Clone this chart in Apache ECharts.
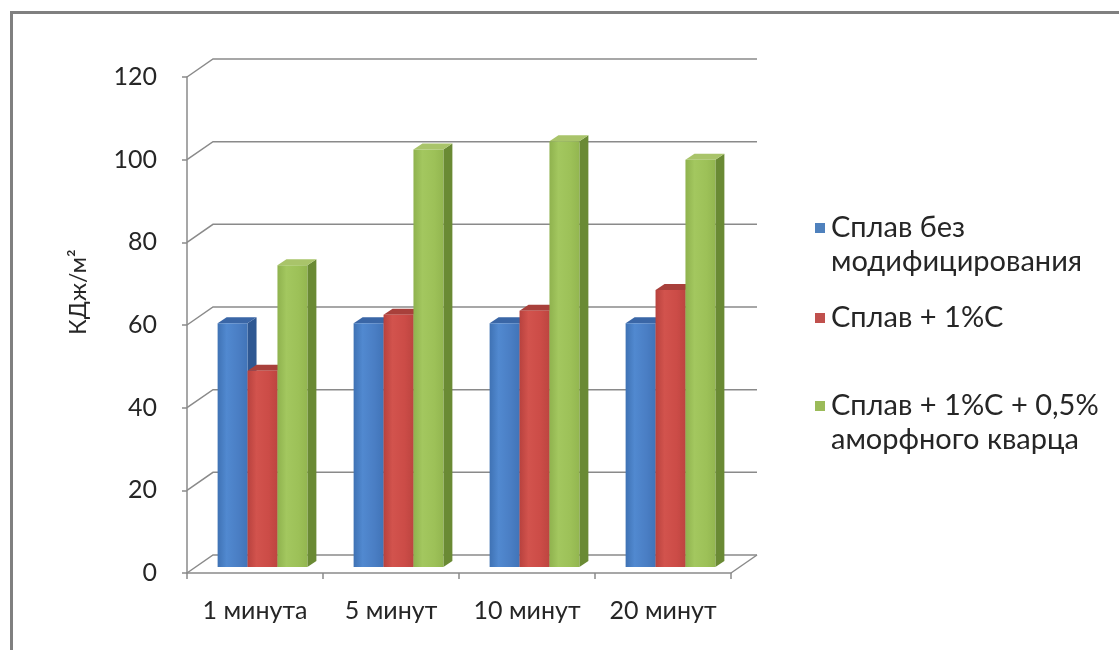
<!DOCTYPE html>
<html>
<head>
<meta charset="utf-8">
<script src="https://cdn.jsdelivr.net/npm/echarts@6/dist/echarts.min.js"></script>
<style>
  html, body { margin: 0; padding: 0; background: #ffffff; }
  #chart { width: 1119px; height: 650px; }
</style>
</head>
<body>
<div id="chart"></div>
<script>
// Impact strength of the alloy by holding time
const categories = ['1 минута', '5 минут', '10 минут', '20 минут'];
const seriesNames = ['Сплав без модифицирования', 'Сплав + 1%С', 'Сплав + 1%С + 0,5% аморфного кварца'];
const legendLines = [
  ['Сплав без', 'модифицирования'],
  ['Сплав + 1%С'],
  ['Сплав + 1%С + 0,5%', 'аморфного кварца']
];
const plainValues = [59, 59, 59, 59];
const carbonValues = [47.5, 61, 62, 67];
const quartzValues = [73, 101, 103, 98.5];
const yTicks = [0, 20, 40, 60, 80, 100, 120];
const yTitle = 'КДж/м²';

const FONT = 'Lato, "Open Sans", sans-serif';
const TEXT = '#262626';
const WALL = '#8a8a8a';

// face colours: front gradient stops, side, top
const palettes = [
  { front: ['#3f72b4', '#5189d0', '#4a7ec4', '#4174b8'], side: '#2f5892', top: '#3a66a6', legend: '#4f81bd' },
  { front: ['#b8423e', '#d2534d', '#cc4c47', '#bd4540'], side: '#8f3431', top: '#a8403b', legend: '#c0504d' },
  { front: ['#8fb24e', '#a3c75f', '#9dc158', '#93b650'], side: '#6a8a34', top: '#a9c46a', legend: '#9bbb59' }
];

// depth of the box walls and of the bars
const WALL_DX = 26, WALL_DY = -18;
const PLANE_DX = 7.5, PLANE_DY = -6;
const BAR_DX = 9, BAR_DY = -6;

function renderWall(params, api) {
  const cs = params.coordSys;
  const v = api.value(0);
  const y = api.coord([0, v])[1];
  const gx = cs.x, gw = cs.width;
  const children = [{
    type: 'polyline',
    shape: { points: [[gx, y], [gx + WALL_DX, y + WALL_DY], [gx + gw + WALL_DX, y + WALL_DY]] },
    style: { stroke: WALL, lineWidth: 1.5, fill: null }
  }];
  if (v === 0) {
    children.push({
      type: 'line',
      shape: { x1: gx + gw, y1: y, x2: gx + gw + WALL_DX, y2: y + WALL_DY },
      style: { stroke: WALL, lineWidth: 1.5 }
    });
  }
  return { type: 'group', children: children };
}

function makeBarRenderer(k) {
  const pal = palettes[k];
  return function (params, api) {
    const cat = api.value(0);
    const v = api.value(1);
    const top = api.coord([cat, v]);
    const base = api.coord([cat, 0]);
    const band = api.size([1, 0])[0];
    const w = band * 0.22;
    const x0 = top[0] + PLANE_DX - 1.5 * w + k * w;
    const x1 = x0 + w;
    const yT = top[1] + PLANE_DY;
    const yB = base[1] + PLANE_DY;
    return {
      type: 'group',
      children: [
        {
          type: 'polygon',
          shape: { points: [[x1, yT], [x1 + BAR_DX, yT + BAR_DY], [x1 + BAR_DX, yB + BAR_DY], [x1, yB]] },
          style: { fill: pal.side }
        },
        {
          type: 'polygon',
          shape: { points: [[x0, yT], [x1, yT], [x1 + BAR_DX, yT + BAR_DY], [x0 + BAR_DX, yT + BAR_DY]] },
          style: { fill: pal.top }
        },
        {
          type: 'rect',
          shape: { x: x0, y: yT, width: w, height: yB - yT },
          style: {
            fill: new echarts.graphic.LinearGradient(0, 0, 1, 0, [
              { offset: 0, color: pal.front[0] },
              { offset: 0.3, color: pal.front[1] },
              { offset: 0.7, color: pal.front[2] },
              { offset: 1, color: pal.front[3] }
            ])
          }
        }
      ]
    };
  };
}

const valueSets = [plainValues, carbonValues, quartzValues];

const series = [{
  type: 'custom',
  name: 'walls',
  renderItem: renderWall,
  data: yTicks.map(function (t) { return [t]; }),
  encode: { y: 0 },
  silent: true,
  z: 1
}].concat(valueSets.map(function (vals, k) {
  return {
    type: 'custom',
    name: seriesNames[k],
    renderItem: makeBarRenderer(k),
    data: vals.map(function (v, i) { return [i, v]; }),
    encode: { x: 0, y: 1 },
    z: 3
  };
}));

// legend entries
const legendGraphics = [];
const legendRows = [228, 318, 406];
legendLines.forEach(function (lines, k) {
  const cy = legendRows[k];
  legendGraphics.push({
    type: 'rect',
    shape: { x: 815, y: cy - 5, width: 10, height: 10 },
    style: { fill: palettes[k].legend }
  });
  legendGraphics.push({
    type: 'text',
    x: 831,
    y: cy - 17,
    style: {
      text: lines.join('\n'),
      font: '29px ' + FONT,
      fill: TEXT,
      lineHeight: 34,
      verticalAlign: 'top',
      align: 'left'
    }
  });
});

// rotated value-axis title
legendGraphics.push({
  type: 'text',
  x: 79,
  y: 292,
  rotation: Math.PI / 2,
  style: {
    text: yTitle,
    font: '23px ' + FONT,
    fill: TEXT,
    align: 'center',
    verticalAlign: 'middle'
  }
});

const chart = echarts.init(document.getElementById('chart'), null, { renderer: 'canvas' });
chart.setOption({
  backgroundColor: '#ffffff',
  animation: false,
  grid: { left: 187, top: 77, width: 544, height: 496 },
  xAxis: {
    type: 'category',
    data: categories,
    boundaryGap: true,
    axisLine: { lineStyle: { color: WALL, width: 1.5 } },
    axisTick: { show: true, length: 6, lineStyle: { color: WALL, width: 1.5 } },
    axisLabel: { interval: 0, hideOverlap: false, margin: 25, fontSize: 25, fontFamily: FONT, color: TEXT }
  },
  yAxis: {
    type: 'value',
    min: 0,
    max: 120,
    interval: 20,
    axisLine: { show: true, lineStyle: { color: WALL, width: 1.5 } },
    axisTick: { show: true, length: 5, lineStyle: { color: WALL, width: 1.5 } },
    splitLine: { show: false },
    axisLabel: { margin: 30, fontSize: 25, fontFamily: FONT, color: TEXT }
  },
  graphic: [
    { type: 'rect', shape: { x: 10, y: 11, width: 1109, height: 3 }, style: { fill: '#808080' }, z: 10 },
    { type: 'rect', shape: { x: 10, y: 11, width: 3, height: 639 }, style: { fill: '#808080' }, z: 10 }
  ].concat(legendGraphics),
  series: series
});
</script>
</body>
</html>
